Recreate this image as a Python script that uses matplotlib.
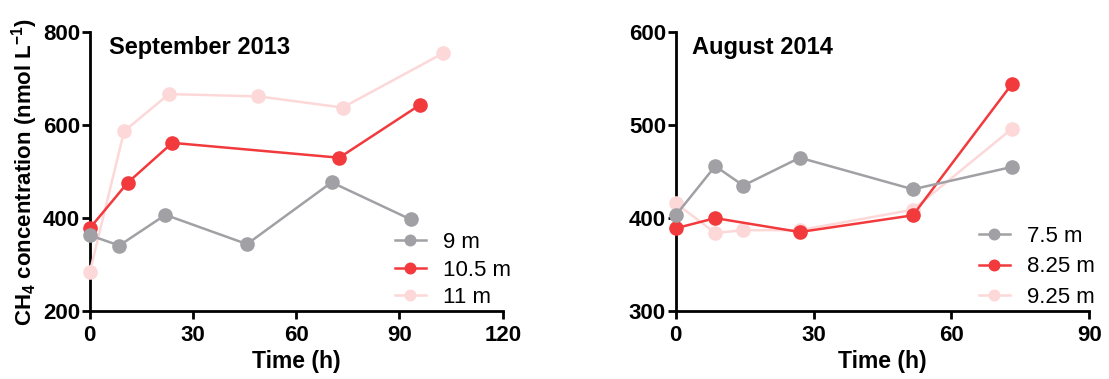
import matplotlib
matplotlib.use("Agg")
import matplotlib.pyplot as plt

plt.rcParams["font.family"] = ["Liberation Sans", "DejaVu Sans"]
plt.rcParams["mathtext.fontset"] = "custom"
plt.rcParams["mathtext.rm"] = "Liberation Sans:bold"
plt.rcParams["mathtext.bf"] = "Liberation Sans:bold"
plt.rcParams["mathtext.default"] = "bf"

gray = "#a1a1a5"
red = "#f23a3d"
pink = "#fdd8d8"

# September 2013
sep_9_x = [0, 8.6, 22, 45.7, 70.3, 93.3]
sep_9_y = [363, 341, 407, 344, 477, 397]
sep_105_x = [0, 11, 24, 72.5, 96]
sep_105_y = [378, 476, 562, 530, 644]
sep_11_x = [0, 10, 23, 49, 73.5, 102.7]
sep_11_y = [283, 587, 667, 662, 638, 755]

# August 2014
aug_x = [0, 8.6, 14.7, 27, 51.6, 73.1]
aug_75_y = [403, 456, 435, 465, 431, 455]
aug_825_x = [0, 8.6, 27, 51.6, 73.1]
aug_825_y = [389, 400, 385, 403, 544]
aug_925_y = [416, 384, 387, 387, 409, 496]

fig = plt.figure(figsize=(11.09, 3.79), dpi=100)
ax1 = fig.add_axes([0.0809, 0.1794, 0.3724, 0.7354])
ax2 = fig.add_axes([0.6093, 0.1794, 0.373, 0.7354])


def style(ax, xlim, xticks, ylim, yticks):
    ax.set_xlim(xlim)
    ax.set_ylim(ylim)
    ax.set_xticks(xticks)
    ax.set_yticks(yticks)
    for s in ["top", "right"]:
        ax.spines[s].set_visible(False)
    for s in ["left", "bottom"]:
        ax.spines[s].set_linewidth(2)
    ax.tick_params(width=2, length=6, direction="out", labelsize=16)
    ax.tick_params(axis="y", pad=1)
    ax.tick_params(axis="x", pad=4)
    for lab in ax.get_xticklabels() + ax.get_yticklabels():
        lab.set_fontweight("bold")
    ax.set_xlabel("Time (h)", fontsize=16.5, fontweight="bold", labelpad=3)


def legend(ax, x0, spacing):
    h, l = ax.get_legend_handles_labels()
    ax.legend(h[::-1], l[::-1], loc="lower left", bbox_to_anchor=(x0, 0.01),
              frameon=False, fontsize=16, handlelength=1.4, handletextpad=0.75,
              labelspacing=spacing, borderpad=0, borderaxespad=0,
              markerscale=0.8)


kw = dict(marker="o", markersize=9.5, linewidth=1.8, clip_on=False)

ax1.plot(sep_11_x, sep_11_y, color=pink, label="11 m", zorder=3, **kw)
ax1.plot(sep_105_x, sep_105_y, color=red, label="10.5 m", zorder=4, **kw)
ax1.plot(sep_9_x, sep_9_y, color=gray, label="9 m", zorder=5, **kw)
style(ax1, (0, 120), [0, 30, 60, 90, 120], (200, 800), [200, 400, 600, 800])
ax1.set_ylabel("CH$_4$ concentration (nmol L$^{-1}$)", fontsize=16,
               fontweight="bold", labelpad=2)
ax1.text(0.047, 0.947, "September 2013", transform=ax1.transAxes,
         fontsize=17, fontweight="bold", va="center")
legend(ax1, 0.739, 0.3)

ax2.plot(aug_x, aug_925_y, color=pink, label="9.25 m", zorder=3, **kw)
ax2.plot(aug_825_x, aug_825_y, color=red, label="8.25 m", zorder=4, **kw)
ax2.plot(aug_x, aug_75_y, color=gray, label="7.5 m", zorder=5, **kw)
style(ax2, (0, 90), [0, 30, 60, 90], (300, 600), [300, 400, 500, 600])
ax2.text(0.04, 0.947, "August 2014", transform=ax2.transAxes,
         fontsize=17, fontweight="bold", va="center")
legend(ax2, 0.733, 0.44)

fig.savefig("out.png", dpi=100)
